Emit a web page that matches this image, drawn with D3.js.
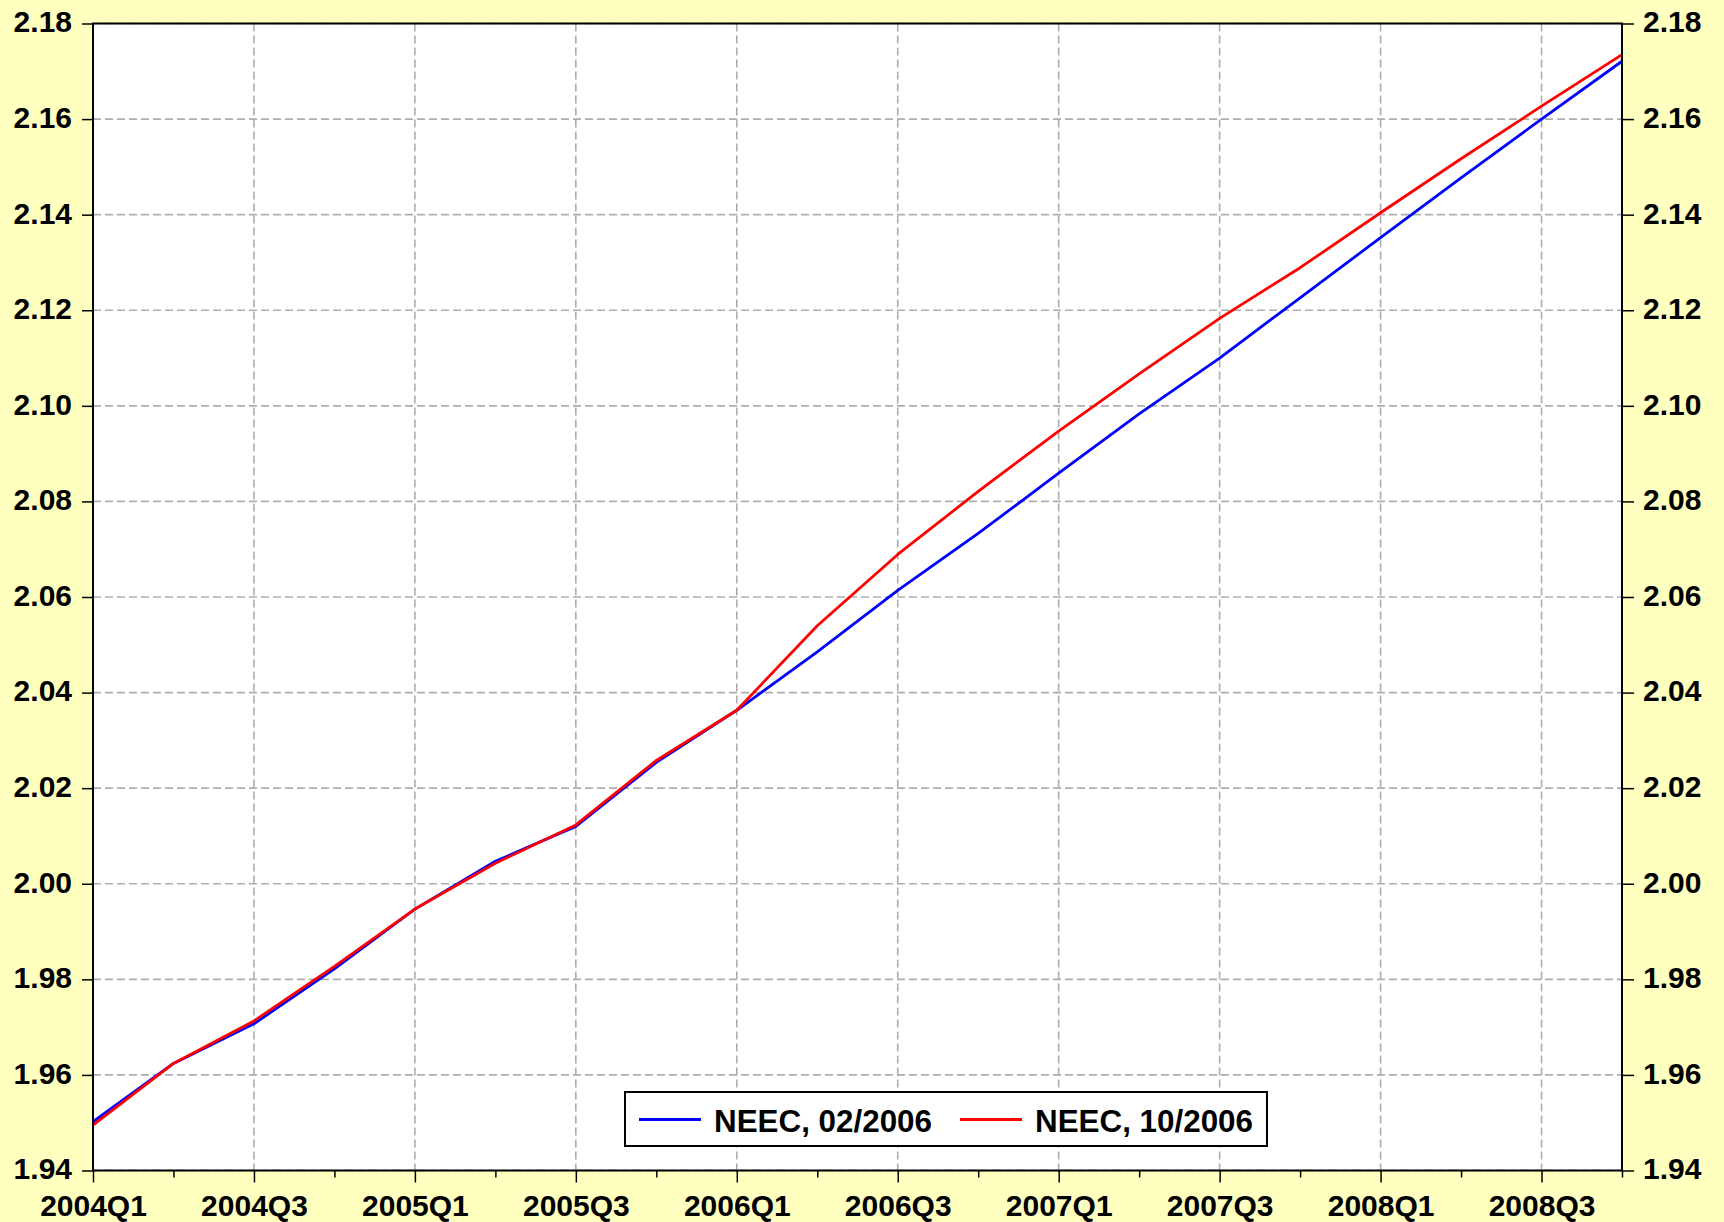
<!DOCTYPE html>
<html>
<head>
<meta charset="utf-8">
<script src="https://cdn.jsdelivr.net/npm/d3@7"></script>
<style>
  html, body { margin: 0; padding: 0; background: #FFFFC0; }
  svg { display: block; }
  text { font-family: "Liberation Sans", Arial, sans-serif; font-weight: bold; fill: #000; }
</style>
</head>
<body>
<svg id="chart" width="1724" height="1222"></svg>
<script>
const quarters = ["2004Q1","2004Q2","2004Q3","2004Q4","2005Q1","2005Q2","2005Q3","2005Q4",
  "2006Q1","2006Q2","2006Q3","2006Q4","2007Q1","2007Q2","2007Q3","2007Q4",
  "2008Q1","2008Q2","2008Q3","2008Q4"];
const neecFeb2006 = [1.9502,1.9624,1.9707,1.9822,1.9947,2.0047,2.0120,2.0254,
  2.0363,2.0485,2.0614,2.0733,2.0859,2.0983,2.1100,2.1226,
  2.1352,2.1477,2.1600,2.1721];
const neecOct2006 = [1.9495,1.9624,1.9713,1.9827,1.9947,2.0043,2.0123,2.0258,
  2.0363,2.0540,2.0689,2.0821,2.0947,2.1067,2.1183,2.1289,
  2.1404,2.1517,2.1627,2.1735];
const yTicks = [1.94,1.96,1.98,2.00,2.02,2.04,2.06,2.08,2.10,2.12,2.14,2.16,2.18];
const seriesNames = ["NEEC, 02/2006", "NEEC, 10/2006"];
const seriesColors = ["#0000FF", "#FF0000"];

const svg = d3.select("#chart");
const L = 93, R = 1622, T = 23.5, B = 1170.5;

const x = d3.scaleLinear().domain([0, quarters.length - 1]).range([L, R]);
const y = d3.scaleLinear().domain([1.94, 2.18]).range([B, T]);

svg.append("rect").attr("width", 1724).attr("height", 1222).attr("fill", "#FFFFC0");
svg.append("rect").attr("x", L).attr("y", T).attr("width", R - L).attr("height", B - T).attr("fill", "#fff");

const majorIdx = quarters.map((q, i) => i).filter(i => i % 2 === 0);
const minorIdx = quarters.map((q, i) => i).filter(i => i % 2 === 1);

// grid
const grid = svg.append("g").attr("stroke", "#ADADAD").attr("stroke-width", 1.6).attr("stroke-dasharray", "8,4");
yTicks.forEach(v => grid.append("line").attr("x1", L).attr("x2", R).attr("y1", y(v)).attr("y2", y(v)));
majorIdx.forEach(i => grid.append("line").attr("x1", x(i)).attr("x2", x(i)).attr("y1", T).attr("y2", B));

// lines
const lineGen = d3.line().x((d, i) => x(i)).y(d => y(d));
[neecFeb2006, neecOct2006].forEach((s, k) => {
  svg.append("path").datum(s).attr("d", lineGen).attr("fill", "none")
    .attr("stroke", seriesColors[k]).attr("stroke-width", 2.8).attr("stroke-linejoin", "round");
});

// frame
svg.append("rect").attr("x", L).attr("y", T).attr("width", R - L).attr("height", B - T)
  .attr("fill", "none").attr("stroke", "#000").attr("stroke-width", 2);

// axes
const fmt = d3.format(".2f");
const axL = svg.append("g").attr("transform", `translate(${L},0)`)
  .call(d3.axisLeft(y).tickValues(yTicks).tickFormat(fmt).tickSize(11).tickPadding(10));
const axR = svg.append("g").attr("transform", `translate(${R},0)`)
  .call(d3.axisRight(y).tickValues(yTicks).tickFormat(fmt).tickSize(12).tickPadding(9));
const axB = svg.append("g").attr("transform", `translate(0,${B})`)
  .call(d3.axisBottom(x).tickValues(majorIdx).tickFormat(i => quarters[i]).tickSize(12).tickPadding(12));
const axBm = svg.append("g").attr("transform", `translate(0,${B})`)
  .call(d3.axisBottom(x).tickValues(minorIdx).tickFormat("").tickSize(7));
[axL, axR, axB, axBm].forEach(a => {
  a.select(".domain").remove();
  a.selectAll(".tick line").attr("stroke", "#000").attr("stroke-width", 1.5);
  a.selectAll("text").attr("font-size", 30).attr("font-family", "'Liberation Sans', Arial, sans-serif")
    .attr("font-weight", "bold").attr("fill", "#000");
});
axL.selectAll("text").attr("dy", "0.28em");
axR.selectAll("text").attr("dy", "0.28em");
axB.selectAll("text").attr("dy", "0.71em");

// legend
const lg = svg.append("g");
lg.append("rect").attr("x", 625).attr("y", 1092).attr("width", 642).attr("height", 54)
  .attr("fill", "#fff").attr("stroke", "#000").attr("stroke-width", 2);
const legX = [639, 960];
seriesNames.forEach((n, k) => {
  lg.append("line").attr("x1", legX[k]).attr("x2", legX[k] + 62).attr("y1", 1119.5).attr("y2", 1119.5)
    .attr("stroke", seriesColors[k]).attr("stroke-width", 2.8);
  lg.append("text").attr("x", legX[k] + 75).attr("y", 1131.5).attr("font-size", 31)
    .attr("textLength", 218).attr("lengthAdjust", "spacingAndGlyphs").text(n);
});
</script>
</body>
</html>
